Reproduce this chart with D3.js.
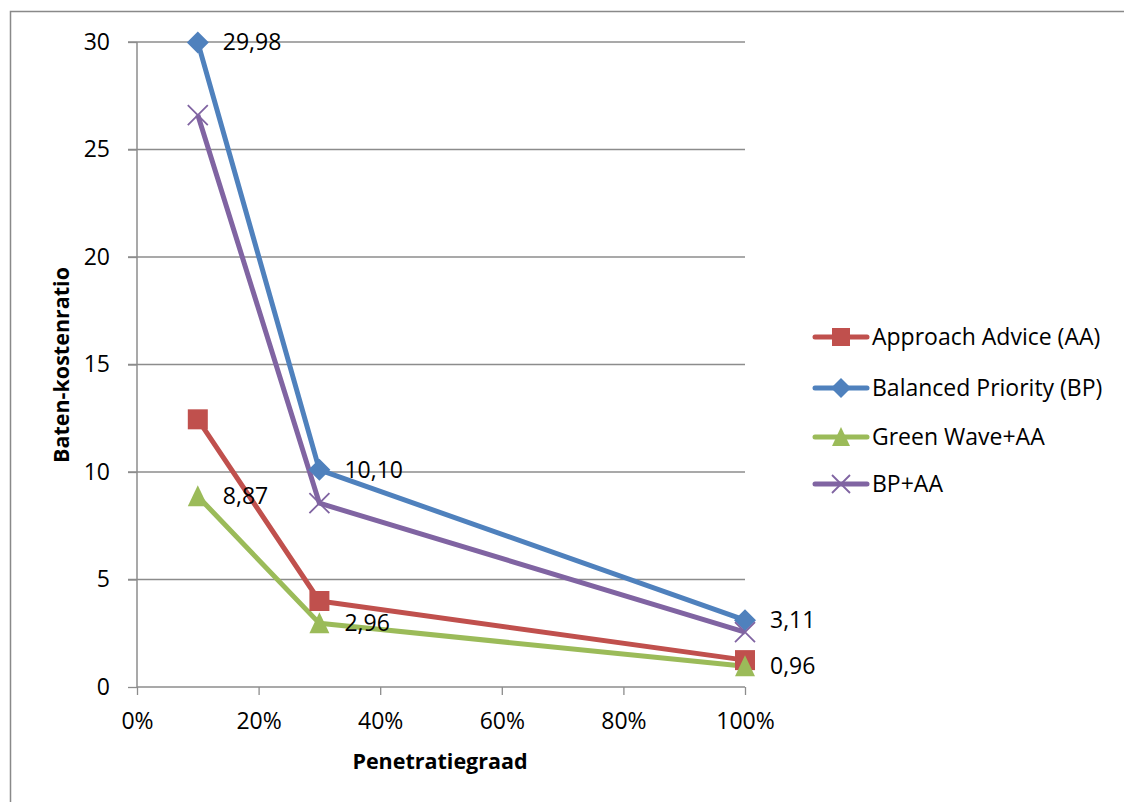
<!DOCTYPE html>
<html><head><meta charset="utf-8">
<script src="https://cdn.jsdelivr.net/npm/d3@7"></script>
<style>html,body{margin:0;padding:0;background:#fff;}svg{display:block;}text{font-family:"Open Sans","Noto Sans",sans-serif;}</style>
</head><body>
<svg id="c" width="1124" height="802"></svg>
<script>
const xValues = [0.1, 0.3, 1.0];
const seriesNames = ["Approach Advice (AA)", "Balanced Priority (BP)", "Green Wave+AA", "BP+AA"];
const aaValues = [12.45, 4.0, 1.25];
const bpValues = [29.98, 10.10, 3.11];
const gwValues = [8.87, 2.96, 0.96];
const bpaaValues = [26.6, 8.55, 2.55];
const xTicks = [0, 0.2, 0.4, 0.6, 0.8, 1.0];
const yTicks = [0, 5, 10, 15, 20, 25, 30];
const colors = ["#C0504D", "#4F81BD", "#9BBB59", "#8064A2"];
const markers = ["square", "diamond", "triangle", "x"];
const labelled = [false, true, true, false];

const series = [aaValues, bpValues, gwValues, bpaaValues].map((v, i) => ({
  name: seriesNames[i], color: colors[i], marker: markers[i], label: labelled[i],
  pts: v.map((y, j) => ({x: xValues[j], y}))
}));

const FS = 23;
const svg = d3.select("#c");
const x = d3.scaleLinear().domain([0, 1]).range([137, 745]);
const y = d3.scaleLinear().domain([0, 30]).range([687, 42]);

// outer border
svg.append("rect").attr("x", 10.5).attr("y", 11.5).attr("width", 1200).attr("height", 900)
  .attr("fill", "none").attr("stroke", "#898989").attr("stroke-width", 1.5);

// gridlines
svg.append("g").selectAll("line").data(yTicks.filter(d => d > 0)).join("line")
  .attr("x1", 128).attr("x2", 745).attr("y1", d => y(d)).attr("y2", d => y(d))
  .attr("stroke", "#8c8c8c").attr("stroke-width", 1.3);

// y axis
const yAxis = svg.append("g").attr("transform", "translate(137,0)")
  .call(d3.axisLeft(y).tickValues(yTicks).tickSize(9).tickPadding(18).tickFormat(d3.format("d")));
// x axis
const xAxis = svg.append("g").attr("transform", "translate(0,687)")
  .call(d3.axisBottom(x).tickValues(xTicks).tickSize(8).tickPadding(18).tickFormat(d3.format(".0%")));
[yAxis, xAxis].forEach(a => {
  a.select(".domain").attr("stroke", "#8c8c8c").attr("stroke-width", 1.5);
  a.selectAll(".tick line").attr("stroke", "#8c8c8c").attr("stroke-width", 1.3);
  a.selectAll("text").attr("font-size", FS).attr("fill", "#000").attr("font-family", '"Open Sans","Noto Sans",sans-serif');
});
yAxis.select(".domain").attr("d", "M0," + y(30) + "V" + y(0));
xAxis.select(".domain").attr("d", "M" + x(0) + ",0H" + x(1));

// axis titles
svg.append("text").attr("x", 440).attr("y", 769).attr("text-anchor", "middle")
  .attr("font-size", 21.5).attr("font-weight", "bold").text("Penetratiegraad");
svg.append("text").attr("transform", "translate(69,365) rotate(-90)").attr("text-anchor", "middle")
  .attr("font-size", 21.5).attr("font-weight", "bold").text("Baten-kostenratio");

function drawMarker(g, type, color, s) {
  if (type === "square") g.append("rect").attr("x", -s).attr("y", -s).attr("width", 2 * s).attr("height", 2 * s).attr("fill", color);
  else if (type === "diamond") g.append("path").attr("d", `M0,${-s - 1}L${s + 1},0L0,${s + 1}L${-s - 1},0Z`).attr("fill", color);
  else if (type === "triangle") g.append("path").attr("d", `M0,${-s - 1}L${s},${s}L${-s},${s}Z`).attr("fill", color);
  else g.append("path").attr("d", `M${-s},${-s}L${s},${s}M${-s},${s}L${s},${-s}`).attr("stroke", color).attr("stroke-width", 1.8);
}

const line = d3.line().x(d => x(d.x)).y(d => y(d.y));
series.forEach(s => {
  svg.append("path").datum(s.pts).attr("d", line).attr("fill", "none")
    .attr("stroke", s.color).attr("stroke-width", 5).attr("stroke-linejoin", "round");
});
series.forEach(s => {
  s.pts.forEach(p => {
    const g = svg.append("g").attr("transform", `translate(${x(p.x)},${y(p.y)})`);
    drawMarker(g, s.marker, s.color, 10);
  });
});
series.filter(s => s.label).forEach(s => {
  svg.append("g").selectAll("text").data(s.pts).join("text")
    .attr("x", d => x(d.x) + 25).attr("y", d => y(d.y)).attr("dy", "0.35em")
    .attr("font-size", FS).attr("fill", "#000")
    .text(d => d3.format(".2f")(d.y).replace(".", ","));
});

// legend
const legY = [337, 388, 437, 484];
series.forEach((s, i) => {
  const g = svg.append("g").attr("transform", `translate(0,${legY[i]})`);
  g.append("line").attr("x1", 815).attr("x2", 867).attr("y1", 0).attr("y2", 0)
    .attr("stroke", s.color).attr("stroke-width", 5).attr("stroke-linecap", "round");
  const m = g.append("g").attr("transform", "translate(841,0)");
  drawMarker(m, s.marker, s.color, 9);
  g.append("text").attr("x", 872).attr("y", 0).attr("dy", "0.35em").attr("font-size", FS).text(s.name);
});
</script>
</body></html>
